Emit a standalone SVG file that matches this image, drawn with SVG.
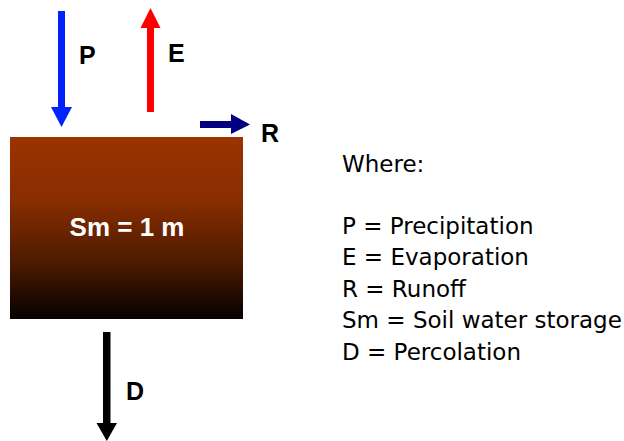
<svg xmlns="http://www.w3.org/2000/svg" width="624" height="441" viewBox="0 0 624 441">
<defs>
<linearGradient id="soil" x1="0" y1="0" x2="0" y2="1">
<stop offset="0" stop-color="#9a3300"/>
<stop offset="0.35" stop-color="#882d00"/>
<stop offset="0.7" stop-color="#4a1a00"/>
<stop offset="1" stop-color="#060000"/>
</linearGradient>
<style>
.lbl{font-family:"Liberation Sans",Arial,sans-serif;font-weight:bold;font-size:25px;fill:#000}
.leg{font-family:"DejaVu Sans",Verdana,sans-serif;font-size:23px;fill:#000}
</style>
</defs>
<rect width="624" height="441" fill="#fff"/>
<g id="soil-store">
<rect x="10" y="137" width="233" height="182" fill="url(#soil)"/>
<text x="127" y="236" text-anchor="middle" class="lbl" style="fill:#fff;font-size:26px">Sm = 1 m</text>
</g>
<g id="connectors">
<g id="arrow-P" fill="#0022ff">
<rect x="58" y="11" width="7" height="97"/>
<polygon points="51,107 72,107 61.5,127"/>
</g>
<g id="arrow-E" fill="#ff0000">
<rect x="147" y="27" width="7" height="85"/>
<polygon points="140.5,28 160.5,28 150.5,8"/>
</g>
<g id="arrow-R" fill="#000080">
<rect x="200" y="121" width="32" height="7"/>
<polygon points="231,114 231,134 250,124.5"/>
</g>
<g id="arrow-D" fill="#000">
<rect x="103" y="332" width="7.5" height="92"/>
<polygon points="96.5,423 117,423 106.8,441"/>
</g>
</g>
<g id="label-P"><text x="79" y="64" class="lbl">P</text></g>
<g id="label-E"><text x="168" y="62" class="lbl">E</text></g>
<g id="label-R"><text x="261" y="142" class="lbl">R</text></g>
<g id="label-D"><text x="126" y="400" class="lbl">D</text></g>
<g id="legend">
<text x="342" y="172" class="leg">Where:</text>
<text x="342" y="234" class="leg">P = Precipitation</text>
<text x="342" y="265" class="leg">E = Evaporation</text>
<text x="342" y="297" class="leg">R = Runoff</text>
<text x="342" y="328" class="leg">Sm = Soil water storage</text>
<text x="342" y="360" class="leg">D = Percolation</text>
</g>
</svg>
